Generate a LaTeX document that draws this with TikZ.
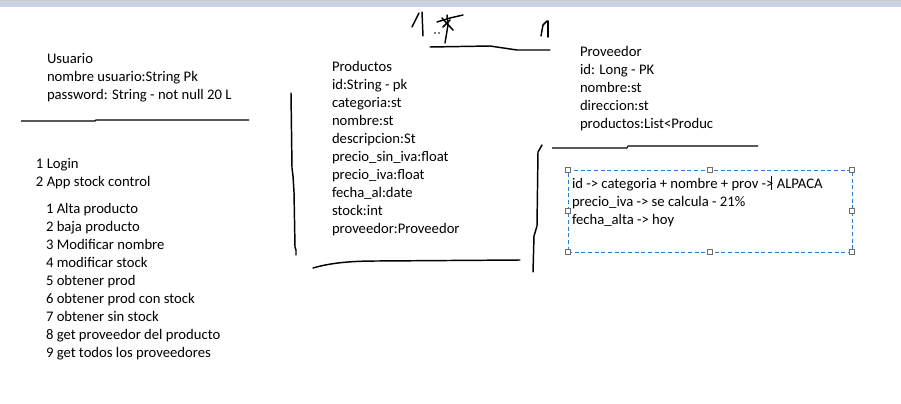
\documentclass[tikz,border=0pt]{standalone}
\usepackage{fontspec}
\setmainfont{Carlito}
\definecolor{barblue}{HTML}{C8D2E2}
\definecolor{selblue}{HTML}{2A7FD0}
\definecolor{gripgray}{HTML}{6E6E6E}
\begin{document}
\begin{tikzpicture}[x=0.75pt,y=-0.75pt,
		every node/.style={inner sep=0pt, outer sep=0pt},
		txt/.style={anchor=north west, align=left, font=\fontsize{11}{13.5}\selectfont},
		pen/.style={line width=1.1pt, line join=round, line cap=round},
		rule/.style={line width=0.8pt},
		selbox/.style={draw=selblue, dash pattern=on 3pt off 2pt, line width=0.75pt, anchor=north west},
		grip/.style={draw=gripgray, fill=white, line width=0.5pt, minimum size=3.8pt}]
	
	\useasboundingbox (0,0) rectangle (901,404);
	\fill[barblue] (0,1) rectangle (901,7);
	\draw[gray!40] (0,0.5) -- (901,0.5);
	
	\node[txt] (usuario) at (47,50.4) {\strut Usuario\\nombre usuario:String Pk\\password: String - not null 20 L};
	\draw[rule] (21,121) -- (95,121) -- (96,120) -- (249,120);
	
	\node[txt] (menu) at (36,155.4) {\strut 1 Login\\2 App stock control};
	\node[txt] (acciones) at (46,200.4) {\strut 1 Alta producto\\2 baja producto\\3 Modificar nombre\\4 modificar stock\\5 obtener prod\\6 obtener prod con stock\\7 obtener sin stock\\8 get proveedor del producto\\9 get todos los proveedores};
	
	\node[txt] (productos) at (332,58.4) {\strut Productos\\id:String - pk\\categoria:st\\nombre:st\\descripcion:St\\precio\_sin\_iva:float\\precio\_iva:float\\fecha\_al:date\\stock:int\\proveedor:Proveedor};
	\draw[pen] (291,93) -- (292,168) -- (293,176) -- (294,192) -- (295,247) -- (296,250) -- (296,255);
	\draw[pen] (313,268) .. controls (330,263) and (350,261) .. (377,261) -- (520,260);
	
	\node[txt] (proveedor) at (580,43.4) {\strut Proveedor\\id: Long - PK\\nombre:st\\direccion:st\\productos:List<Produc};
	\draw[rule] (552,148) -- (627,148) -- (628,146) -- (758,146);
	\draw[pen] (542,145) -- (538,152) -- (537,226) -- (534,236) -- (533,272);
	
	\draw[pen] (412,27) -- (419,13);
	\draw[pen] (422,12) -- (423,36);
	\draw[pen] (437,22) -- (450,18) -- (463,15);
	\draw[pen] (447,15) -- (448,25) -- (445,43);
	\draw[pen] (442,18) -- (453,30);
	\draw[pen] (450,20) -- (443,27);
	\fill (435,33) circle (0.7pt) (439,33) circle (0.7pt);
	\draw[pen] (541,36) -- (543,25) -- (547,21);
	\draw[pen] (548,21) -- (548,37);
	\draw[pen] (430,47) -- (490,46) -- (517,50) -- (550,50);
	
	\node[selbox, minimum width=213pt, minimum height=61.5pt] (sel) at (568,170) {};
	\node[txt] (notas) at (572,175.4) {\strut id -> categoria + nombre + prov -> ALPACA\\precio\_iva -> se calcula - 21\%\\fecha\_alta -> hoy};
	\draw[line width=0.75pt] (771,176) -- (771,190);
	\foreach \a in {north west,north,north east,west,east,south west,south,south east}
		\node[grip] at (sel.\a) {};
	
\end{tikzpicture}
\end{document}
